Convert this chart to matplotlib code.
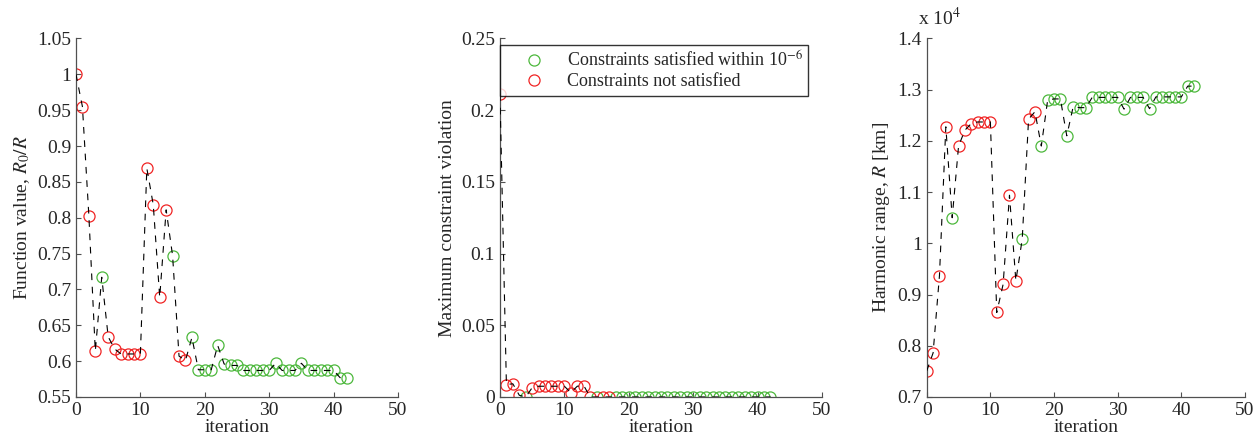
import numpy as np
import matplotlib
matplotlib.use("Agg")
import matplotlib.pyplot as plt
from matplotlib.ticker import FuncFormatter

plt.rcParams['font.family'] = ['Liberation Serif', 'DejaVu Serif']
plt.rcParams['mathtext.fontset'] = 'stix'

# data
iteration = list(range(43))
satisfied = [0, 0, 0, 0, 1, 0, 0, 0, 0, 0,
             0, 0, 0, 0, 0, 1, 0, 0, 1, 1,
             1, 1, 1, 1, 1, 1, 1, 1, 1, 1,
             1, 1, 1, 1, 1, 1, 1, 1, 1, 1,
             1, 1, 1]
func_val = [1.000, 0.955, 0.803, 0.614, 0.717, 0.634, 0.617, 0.610, 0.610, 0.610,
            0.610, 0.869, 0.818, 0.689, 0.811, 0.747, 0.607, 0.601, 0.633, 0.588,
            0.588, 0.588, 0.622, 0.596, 0.594, 0.594, 0.587, 0.587, 0.587, 0.587,
            0.587, 0.597, 0.587, 0.587, 0.587, 0.597, 0.587, 0.587, 0.587, 0.587,
            0.587, 0.577, 0.576]
max_viol = [0.211, 0.0087, 0.0092, 0.0012, 0.0, 0.0065, 0.0075, 0.0075, 0.0075, 0.0075,
            0.0075, 0.003, 0.0075, 0.008, 0.0, 0.0, 0.0, 0.0, 0.0, 0.0,
            0.0, 0.0, 0.0, 0.0, 0.0, 0.0, 0.0, 0.0, 0.0, 0.0,
            0.0, 0.0, 0.0, 0.0, 0.0, 0.0, 0.0, 0.0, 0.0, 0.0,
            0.0, 0.0, 0.0]
range_km = [7510, 7860, 9370, 12275, 10500, 11900, 12210, 12340, 12370, 12370,
            12370, 8650, 9200, 10940, 9270, 10080, 12425, 12570, 11900, 12800,
            12820, 12820, 12100, 12665, 12650, 12650, 12850, 12850, 12850, 12850,
            12850, 12620, 12850, 12850, 12850, 12630, 12860, 12860, 12860, 12860,
            12860, 13070, 13070]

green = '#4cb83c'
red = '#f02424'
txt = '#262626'
spine = '#505050'

fig = plt.figure(figsize=(12.6, 4.41), dpi=100)
ax1 = fig.add_axes([0.0603, 0.0998, 0.2556, 0.8129])
ax2 = fig.add_axes([0.3968, 0.0998, 0.2556, 0.8129])
ax3 = fig.add_axes([0.7355, 0.0998, 0.2526, 0.8129])

it = np.array(iteration)
ok = np.array(satisfied, dtype=bool)


def draw(ax, y):
    y = np.asarray(y)
    h1, = ax.plot(it[ok], y[ok], 'o', mfc='none', mec=green, ms=8, mew=0.9,
                  label='Constraints satisfied within 10$^{-6}$', zorder=2)
    h2, = ax.plot(it[~ok], y[~ok], 'o', mfc='none', mec=red, ms=8, mew=0.9,
                  label='Constraints not satisfied', zorder=2)
    ax.plot(it, y, color='black', lw=0.8, ls=(0, (6, 6)), zorder=3)
    ax.set_xlim(0, 50)
    ax.set_xticks(range(0, 51, 10))
    ax.set_xlabel('iteration', fontsize=14, color=txt, labelpad=0)
    for s in ['top', 'right']:
        ax.spines[s].set_visible(False)
    for s in ['left', 'bottom']:
        ax.spines[s].set_color(spine)
        ax.spines[s].set_linewidth(0.9)
    ax.tick_params(direction='in', length=3.5, width=0.8, colors=spine,
                   labelcolor=txt, labelsize=14)
    ax.yaxis.set_major_formatter(FuncFormatter(lambda v, p: '%g' % round(v, 4)))
    return h1, h2


draw(ax1, func_val)
ax1.set_ylim(0.55, 1.05)
ax1.set_yticks(np.arange(0.55, 1.0501, 0.05))
ax1.set_ylabel('Function value, $R_0/R$', fontsize=14, color=txt)

h1, h2 = draw(ax2, max_viol)
ax2.set_ylim(0, 0.25)
ax2.set_yticks(np.arange(0, 0.2501, 0.05))
ax2.set_ylabel('Maximum constraint violation', fontsize=14, color=txt)
leg = ax2.legend(handles=[h1, h2], loc='upper left',
                 bbox_to_anchor=(0.0, 0.982), fontsize=13,
                 frameon=True, fancybox=False, borderpad=0.3, labelspacing=0.15,
                 handlelength=3.2, handletextpad=0.2, borderaxespad=0)
leg.get_frame().set_edgecolor('black')
leg.get_frame().set_linewidth(1.0)
for t in leg.get_texts():
    t.set_color(txt)

draw(ax3, np.array(range_km) / 1e4)
ax3.set_ylim(0.7, 1.4)
ax3.set_yticks(np.arange(0.7, 1.4001, 0.1))
ax3.set_ylabel('Harmonic range, $R$ [km]', fontsize=14, color=txt)
ax3.text(-0.027, 1.025, r'x 10$^{4}$', transform=ax3.transAxes, fontsize=14,
         color=txt, ha='left', va='bottom')

fig.savefig('out.png', dpi=100)
